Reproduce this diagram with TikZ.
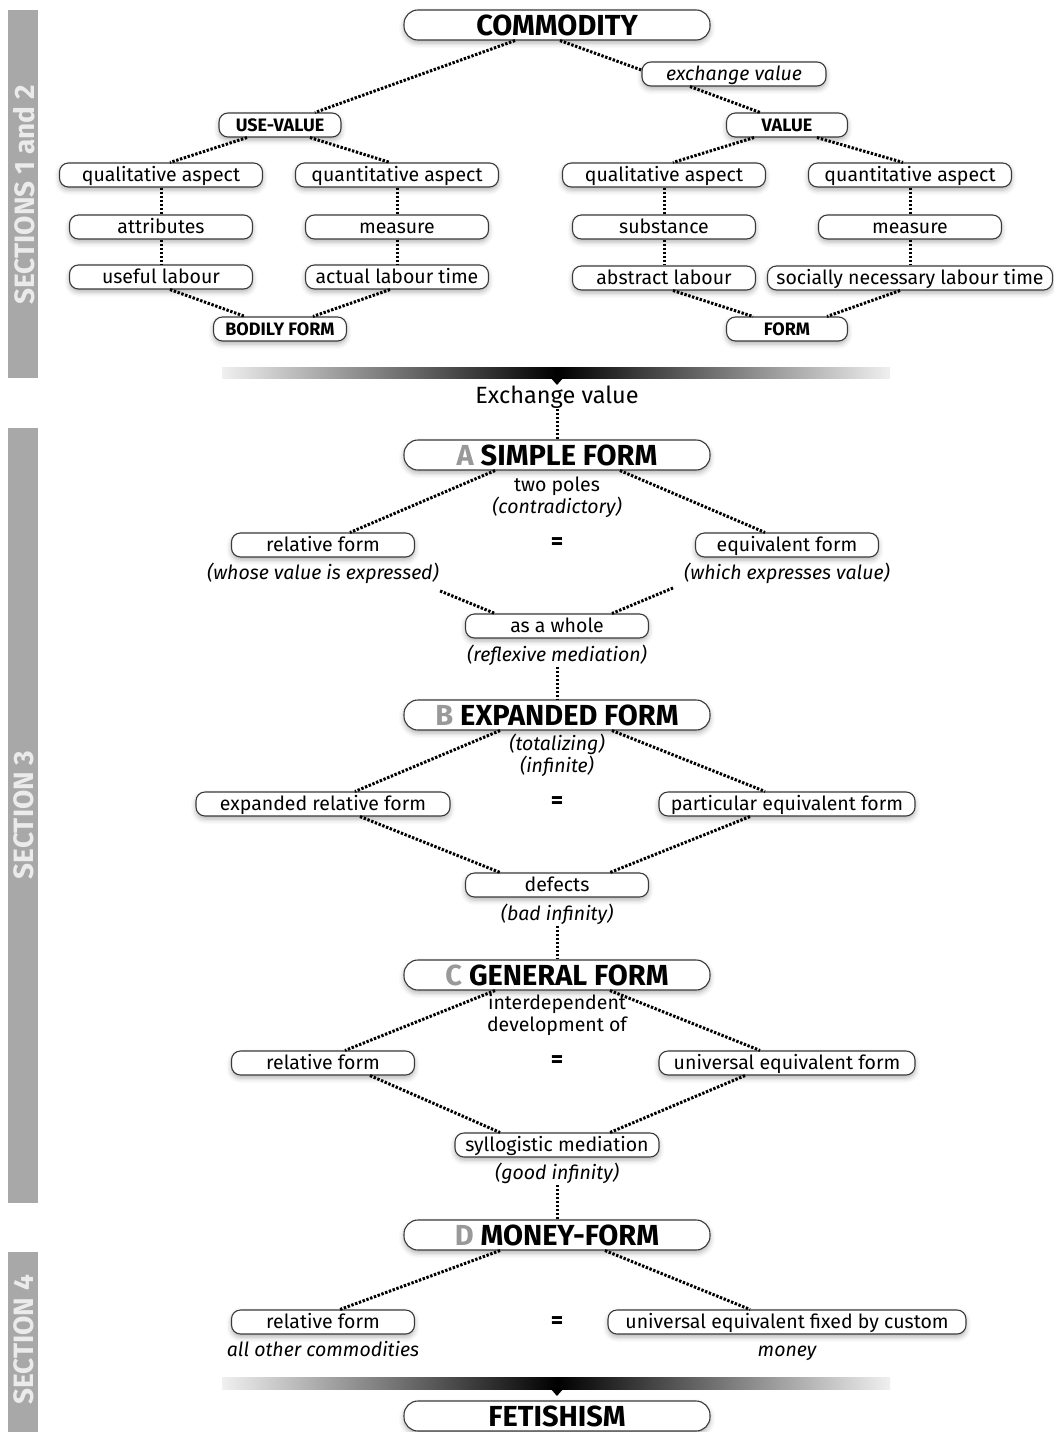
\documentclass[tikz,border=0pt]{standalone}
\usepackage{fontspec}
\setmainfont{Fira Sans}
\usetikzlibrary{shadows.blur}
\definecolor{secgray}{HTML}{A8A8A8}
\definecolor{formgray}{HTML}{999999}
\definecolor{boxline}{HTML}{3A3A3A}

\begin{document}
\begin{tikzpicture}[x=1pt,y=-1pt,
  box/.style={draw=boxline, line width=1.1pt, fill=white, rounded corners=9pt, minimum height=24pt, inner sep=0pt, text height=15.5pt, text depth=2pt, font=\fontsize{19.5}{21}\selectfont, blur shadow={shadow xshift=0pt, shadow yshift=-3pt, shadow blur radius=5pt, shadow opacity=30}},
  head/.style={box, rounded corners=14pt, minimum width=306pt, minimum height=30pt, text height=21pt, text depth=0pt, font=\fontsize{29}{31}\selectfont\bfseries},
  tag/.style={box, text height=12.5pt, text depth=0pt, font=\fontsize{18}{20}\selectfont\bfseries},
  plain/.style={inner sep=1pt, text height=15pt, text depth=4.5pt, font=\fontsize{19.5}{21}\selectfont},
  note/.style={plain, font=\fontsize{19.5}{21}\selectfont\itshape},
  eq/.style={inner sep=0pt, text height=12pt, text depth=0pt, font=\fontsize{24}{26}\selectfont\bfseries},
  sec/.style={rotate=90, text=white!92!black, font=\fontsize{28}{30}\selectfont\bfseries},
  dots/.style={line width=3pt, dash pattern=on 2.4pt off 1.6pt}]
\useasboundingbox (0,0) rectangle (1054,1432);
\fill[secgray] (8,10) rectangle (38,378);
\fill[secgray] (8,428) rectangle (38,1203);
\fill[secgray] (8,1252) rectangle (38,1432);
\node[sec] (sec12) at (24,195) {SECTIONS 1 and 2};
\node[sec] (sec3) at (24,815) {SECTION 3};
\node[sec] (sec4) at (24,1340) {SECTION 4};
\node[head] (comm) at (557,25) {COMMODITY};
\node[box, minimum width=184pt, font=\fontsize{19.5}{21}\selectfont\itshape] (exv) at (734,74) {exchange value};
\node[tag, minimum width=122pt] (uv) at (280,125) {USE-VALUE};
\node[tag, minimum width=121pt] (val) at (787,125) {VALUE};
\node[box, minimum width=203pt] (ql1) at (161,175) {qualitative aspect};
\node[box, minimum width=203pt] (qn1) at (397,175) {quantitative aspect};
\node[box, minimum width=203pt] (ql2) at (664,175) {qualitative aspect};
\node[box, minimum width=203pt] (qn2) at (910,175) {quantitative aspect};
\node[box, minimum width=183pt] (attr) at (161,227) {attributes};
\node[box, minimum width=183pt] (meas1) at (397,227) {measure};
\node[box, minimum width=183pt] (subst) at (664,227) {substance};
\node[box, minimum width=183pt] (meas2) at (910,227) {measure};
\node[box, minimum width=183pt] (useful) at (161,277) {useful labour};
\node[box, minimum width=183pt] (actual) at (397,277) {actual labour time};
\node[box, minimum width=183pt] (abstr) at (664,278) {abstract labour};
\node[box, minimum width=285pt] (socnec) at (910,278) {socially necessary labour time};
\node[tag, minimum width=133pt] (bodily) at (280,329) {BODILY FORM};
\node[tag, minimum width=121pt] (form) at (787,329) {FORM};
\draw[dots] ([xshift=-42pt]comm.south) -- ([xshift=35pt]uv.north);
\draw[dots] ([xshift=3pt]comm.south) -- ([yshift=4pt]exv.west);
\draw[dots] ([xshift=-44pt]exv.south) -- ([xshift=-27pt]val.north);
\draw[dots] ([xshift=-33pt]uv.south) -- ([xshift=9pt]ql1.north);
\draw[dots] ([xshift=30pt]uv.south) -- ([xshift=-7pt]qn1.north);
\draw[dots] ([xshift=-33pt]val.south) -- ([xshift=9pt]ql2.north);
\draw[dots] ([xshift=30pt]val.south) -- ([xshift=-7pt]qn2.north);
\draw[dots] (ql1.south) -- (attr.north);
\draw[dots] (attr.south) -- (useful.north);
\draw[dots] (qn1.south) -- (meas1.north);
\draw[dots] (meas1.south) -- (actual.north);
\draw[dots] (ql2.south) -- (subst.north);
\draw[dots] (subst.south) -- (abstr.north);
\draw[dots] (qn2.south) -- (meas2.north);
\draw[dots] (meas2.south) -- (socnec.north);
\draw[dots] ([xshift=9pt]useful.south) -- ([xshift=-35pt]bodily.north);
\draw[dots] ([xshift=-7pt]actual.south) -- ([xshift=33pt]bodily.north);
\draw[dots] ([xshift=9pt]abstr.south) -- ([xshift=-34pt]form.north);
\draw[dots] ([xshift=-10pt]socnec.south) -- ([xshift=40pt]form.north);
\shade[left color=black!6, right color=black] (222,367) rectangle (557,378);
\shade[left color=black, right color=black!6] (557,367) rectangle (890,378);
\fill (550,377) -- (564,377) -- (557,385) -- cycle;
\node[plain, font=\fontsize{23.5}{25}\selectfont] (exch) at (557,398) {Exchange value};
\node[head] (simple) at (557,455) {\textcolor{formgray}{A} SIMPLE FORM};
\draw[dots] (exch.south) -- (simple.north);
\node[plain] (poles) at (557,486) {two poles};
\node[note] (contra) at (557,508) {(contradictory)};
\node[box, minimum width=183pt] (rel1) at (323,545) {relative form};
\node[note] (whose) at (323,574) {(whose value is expressed)};
\node[eq] (eq1) at (557,543) {=};
\node[box, minimum width=183pt] (equiv) at (787,545) {equivalent form};
\node[note] (which) at (787,574) {(which expresses value)};
\node[box, minimum width=183pt] (whole) at (557,626) {as a whole};
\node[note] (reflex) at (557,656) {(reflexive mediation)};
\draw[dots] ([xshift=-62pt]simple.south) -- ([xshift=27pt]rel1.north);
\draw[dots] ([xshift=63pt]simple.south) -- ([xshift=-22pt]equiv.north);
\draw[dots] ([yshift=-6pt]whose.south east) -- ([xshift=-62pt]whole.north);
\draw[dots] ([xshift=-10pt,yshift=-3pt]which.south west) -- ([xshift=55pt]whole.north);
\node[head] (expanded) at (557,715) {\textcolor{formgray}{B} EXPANDED FORM};
\draw[dots] (reflex.south) -- (expanded.north);
\node[note] (total) at (557,745) {(totalizing)};
\node[note] (infin) at (557,767) {(infinite)};
\node[box, minimum width=254pt] (exprel) at (323,804) {expanded relative form};
\node[eq] (eq2) at (557,802) {=};
\node[box, minimum width=256pt] (partic) at (787,804) {particular equivalent form};
\node[box, minimum width=183pt] (defects) at (557,885) {defects};
\node[note] (bad) at (557,915) {(bad infinity)};
\draw[dots] ([xshift=-57pt]expanded.south) -- ([xshift=32pt]exprel.north);
\draw[dots] ([xshift=55pt]expanded.south) -- ([xshift=-22pt]partic.north);
\draw[dots] ([xshift=37pt]exprel.south) -- ([xshift=-57pt]defects.north);
\draw[dots] ([xshift=-37pt]partic.south) -- ([xshift=53pt]defects.north);
\node[head] (general) at (557,975) {\textcolor{formgray}{C} GENERAL FORM};
\draw[dots] (bad.south) -- (general.north);
\node[plain] (interdep) at (557,1004) {interdependent};
\node[plain] (devel) at (557,1026) {development of};
\node[box, minimum width=183pt] (rel2) at (323,1063) {relative form};
\node[eq] (eq3) at (557,1061) {=};
\node[box, minimum width=256pt] (univ) at (787,1063) {universal equivalent form};
\node[box, minimum width=204pt] (syllog) at (557,1145) {syllogistic mediation};
\node[note] (good) at (557,1174) {(good infinity)};
\draw[dots] ([xshift=-62pt]general.south) -- ([xshift=22pt]rel2.north);
\draw[dots] ([xshift=53pt]general.south) -- ([xshift=-27pt]univ.north);
\draw[dots] ([xshift=47pt]rel2.south) -- ([xshift=-57pt]syllog.north);
\draw[dots] ([xshift=-42pt]univ.south) -- ([xshift=53pt]syllog.north);
\node[head] (money) at (557,1235) {\textcolor{formgray}{D} MONEY-FORM};
\draw[dots] (good.south) -- (money.north);
\node[box, minimum width=183pt] (rel3) at (323,1322) {relative form};
\node[note] (others) at (323,1351) {all other commodities};
\node[eq] (eq4) at (557,1322) {=};
\node[box, minimum width=358pt] (fixed) at (787,1322) {universal equivalent fixed by custom};
\node[note] (moneyn) at (787,1351) {money};
\draw[dots] ([xshift=-57pt]money.south) -- ([xshift=17pt]rel3.north);
\draw[dots] ([xshift=48pt]money.south) -- ([xshift=-37pt]fixed.north);
\shade[left color=black!6, right color=black] (222,1377) rectangle (557,1389);
\shade[left color=black, right color=black!6] (557,1377) rectangle (890,1389);
\fill (550,1388) -- (564,1388) -- (557,1396) -- cycle;
\node[head] (fetish) at (557,1416) {FETISHISM};
\end{tikzpicture}
\end{document}
